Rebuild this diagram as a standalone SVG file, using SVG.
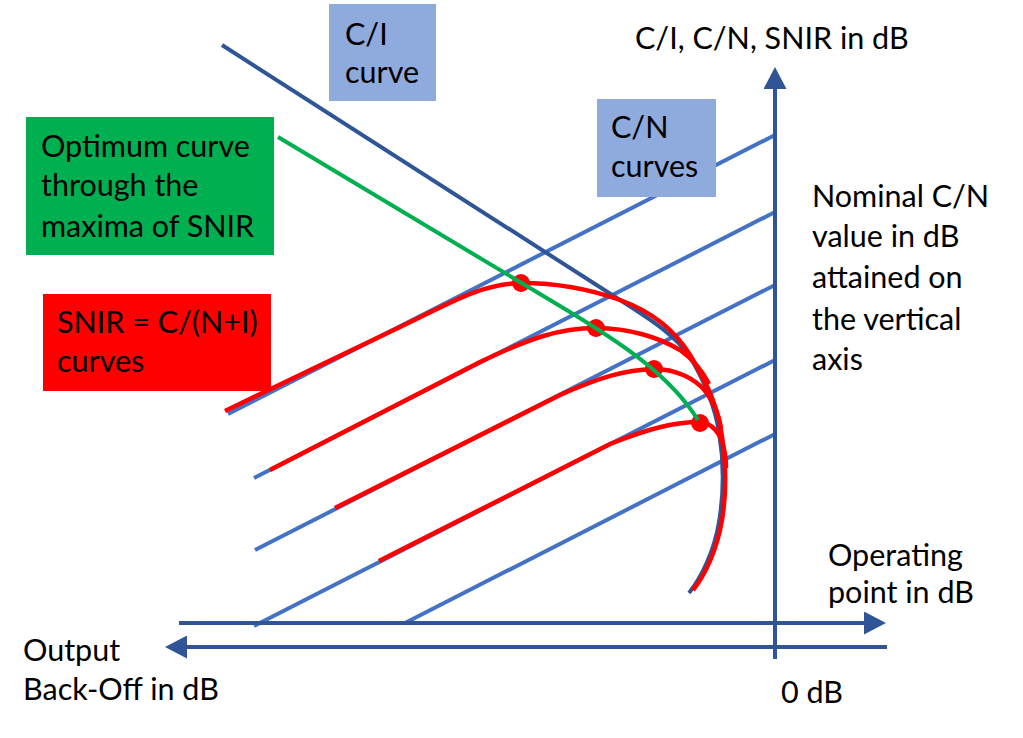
<svg xmlns="http://www.w3.org/2000/svg" width="1023" height="738" viewBox="0 0 1023 738">
<style>
text{font-family:Lato,"Open Sans","Liberation Sans",sans-serif;font-size:30.5px;fill:#000}
.cn{stroke:#4472C4;stroke-width:4;fill:none}
.ax{stroke:#2F5597;stroke-width:4;fill:none}
.ci{stroke:#2F5597;stroke-width:4;fill:none}
.snir{stroke:#FF0000;stroke-width:4.5;fill:none;stroke-linecap:butt}
.opt{stroke:#00B050;stroke-width:4;fill:none}
.dot{fill:#FF0000}
.lb{fill:#8FAADC}
</style>
<defs>
<marker id="ah" viewBox="0 0 22 23" refX="0" refY="11.5" markerWidth="22" markerHeight="23" markerUnits="userSpaceOnUse" orient="auto">
<path d="M0,0 L22,11.5 L0,23 z" fill="#2F5597"/>
</marker>
</defs>
<rect width="1023" height="738" fill="#fff"/>
<g id="connectors">
<g id="cn-lines">
<line class="cn" x1="775" y1="135" x2="228" y2="414"/>
<line class="cn" x1="775" y1="212" x2="254" y2="478"/>
<line class="cn" x1="775" y1="285" x2="255" y2="550"/>
<line class="cn" x1="775" y1="360" x2="254" y2="626"/>
<line class="cn" x1="775" y1="434" x2="405" y2="623"/>
</g>
<path id="ci-curve" class="ci" d="M222,45 L620,300 C650,319 675,335 690,357 C702,377 714,402 719,432 C724,462 724,492 719,522 C714,552 701,578 689,593"/>
<g id="axes">
<line class="ax" x1="775" y1="659" x2="775" y2="89" marker-end="url(#ah)"/>
<line class="ax" x1="179" y1="623" x2="864" y2="623" marker-end="url(#ah)"/>
<line class="ax" x1="887" y1="647" x2="187" y2="647" marker-end="url(#ah)"/>
</g>
<g id="snir-curves">
<path class="snir" d="M225,411 L400,327 C450,303 480,284 521,283 C560,283 595,291 620,300 C650,311 675,330 690,355 C702,375 716,400 721,430 C726,460 727,490 722,520 C717,550 705,575 693,590"/>
<path class="snir" d="M270,470 L480,362 C530,338 560,328 596,328 C630,328 660,338 680,350 C694,360 703,372 709,384"/>
<path class="snir" d="M335,508 L560,395 C600,377 625,370 654,369 C675,369 695,378 706,392 C714,403 719,415 721,428"/>
<path class="snir" d="M379,561 L610,444 C650,428 675,422 700,422 C712,423 720,433 723,445 C725,452 726,460 726,468"/>
</g>
<g id="maxima">
<circle class="dot" cx="521" cy="283" r="9"/>
<circle class="dot" cx="596" cy="328" r="9"/>
<circle class="dot" cx="654" cy="369" r="9"/>
<circle class="dot" cx="700" cy="423" r="9"/>
</g>
<path id="optimum-curve" class="opt" d="M278,137 L560,306 C620,342 670,375 698,420"/>
</g>
<g id="ci-label">
<rect class="lb" x="329" y="4" width="107" height="97"/>
<text x="345" y="45">C/I</text>
<text x="345" y="83">curve</text>
</g>
<g id="cn-label">
<rect class="lb" x="597" y="99" width="119" height="98"/>
<text x="611" y="138">C/N</text>
<text x="611" y="177">curves</text>
</g>
<g id="optimum-label">
<rect x="26" y="117" width="248" height="138" fill="#00B050"/>
<text x="41" y="157">Optimum curve</text>
<text x="41" y="196">through the</text>
<text x="41" y="237">maxima of SNIR</text>
</g>
<g id="snir-label">
<rect x="43" y="294" width="228" height="97" fill="#FF0000"/>
<text x="57" y="333">SNIR = C/(N+I)</text>
<text x="57" y="372">curves</text>
</g>
<g id="axis-labels">
<text x="635" y="49">C/I, C/N, SNIR in dB</text>
<text x="812" y="207">Nominal C/N</text>
<text x="812" y="247">value in dB</text>
<text x="812" y="288">attained on</text>
<text x="812" y="330">the vertical</text>
<text x="812" y="370">axis</text>
<text x="828" y="566">Operating</text>
<text x="828" y="603">point in dB</text>
<text x="23" y="661">Output</text>
<text x="23" y="700">Back-Off in dB</text>
<text x="781" y="703">0 dB</text>
</g>
</svg>
